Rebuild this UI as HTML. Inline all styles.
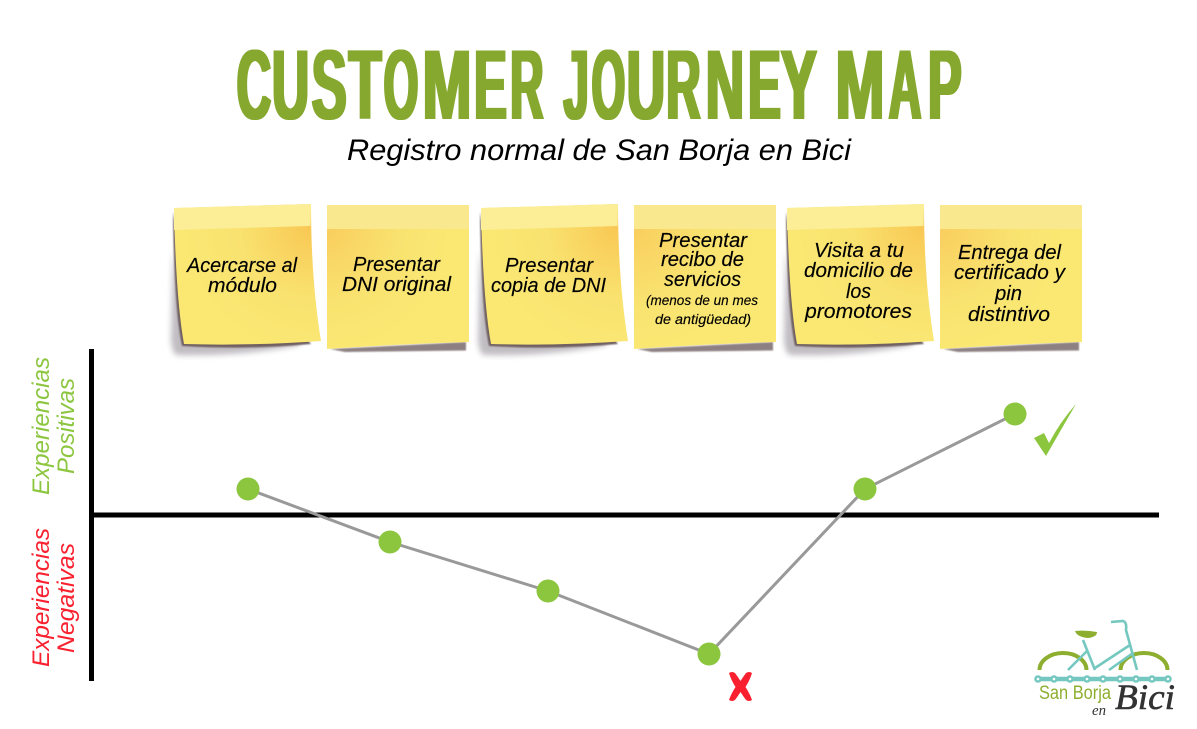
<!DOCTYPE html>
<html><head><meta charset="utf-8"><style>
html,body{margin:0;padding:0;background:#fff;width:1197px;height:729px;overflow:hidden}
svg{display:block}
.t{font-family:"Liberation Sans",sans-serif;font-style:italic;font-size:20.5px;fill:#000;stroke:#000;stroke-width:.15}
.s{font-size:13.5px}
.ti text{font-family:"Liberation Sans",sans-serif;font-weight:bold;font-size:99px;fill:#86A82F}
.v{font-family:"Liberation Sans",sans-serif;font-style:italic;font-size:24px}
</style></head><body>
<svg width="1197" height="729" viewBox="0 0 1197 729" xmlns="http://www.w3.org/2000/svg">
<defs>
<filter id="b" x="-20%" y="-30%" width="140%" height="160%"><feGaussianBlur stdDeviation="3"/></filter>
<filter id="b1" x="-20%" y="-50%" width="140%" height="200%"><feGaussianBlur stdDeviation=".7"/></filter>
<filter id="d" filterUnits="userSpaceOnUse" x="220" y="30" width="760" height="110"><feMorphology operator="dilate" radius="1.7 0"/></filter>
<radialGradient id="g1" gradientUnits="userSpaceOnUse" cx="311" cy="226" r="130">
<stop offset="0" stop-color="#F9C753"/><stop offset=".55" stop-color="#F9E26F"/><stop offset="1" stop-color="#FAE873"/></radialGradient>
<radialGradient id="g2" gradientUnits="userSpaceOnUse" cx="327" cy="229" r="125">
<stop offset="0" stop-color="#F9CE5E"/><stop offset=".6" stop-color="#F9E370"/><stop offset="1" stop-color="#FAE873"/></radialGradient>
<g id="n1">
<path d="M173 250 L171 340 Q172 352 176 355 Q240 357 300 345 L296 335 L185 330Z" fill="#8d8690" opacity=".55" filter="url(#b)"/>
<path d="M173 212 Q174 310 182 346 Q250 350 311 344 L300 330 L190 330Z" fill="#6f6162" filter="url(#b1)"/>
<path d="M174 208 L311 204 Q311 280 321 341 Q250 346 184 344 Q176 300 174 208Z" fill="url(#g1)"/>
<path d="M174 208 L311 204 L310.5 226 L174 230Z" fill="#FCEE97"/>
</g>
<g id="n2">
<path d="M330 349 L466 342 L466 350.500 L345 352Z" fill="#8d8082" filter="url(#b1)"/>
<path d="M327 205 L469 205 L469 342 Q400 344 327 349Z" fill="url(#g2)"/>
<path d="M327 205 H469 V229 H327Z" fill="#FAE88F"/>
</g>
</defs>

<g class="ti" filter="url(#d)">
<text transform="translate(236.8,119) scale(.481,1)">C</text>
<text transform="translate(271.95,119) scale(.519,1)">U</text>
<text transform="translate(311.65,119) scale(.532,1)">S</text>
<text transform="translate(348.57,119) scale(.544,1)">T</text>
<text transform="translate(383.75,119) scale(.448,1)">O</text>
<text transform="translate(422.5,119) scale(.594,1)">M</text>
<text transform="translate(474.1,119) scale(.495,1)">E</text>
<text transform="translate(510.3,119) scale(.465,1)">R</text>
<text transform="translate(563.5,119) scale(.458,1)">J</text>
<text transform="translate(591.8,119) scale(.433,1)">O</text>
<text transform="translate(626.8,119) scale(.537,1)">U</text>
<text transform="translate(666.2,119) scale(.481,1)">R</text>
<text transform="translate(705.8,119) scale(.537,1)">N</text>
<text transform="translate(748.1,119) scale(.495,1)">E</text>
<text transform="translate(780.8,119) scale(.549,1)">Y</text>
<text transform="translate(835.5,119) scale(.594,1)">M</text>
<text transform="translate(888.7,119) scale(.456,1)">A</text>
<text transform="translate(928,119) scale(.509,1)">P</text>
</g>
<text x="347" y="160" font-family="Liberation Sans, sans-serif" font-style="italic" font-size="30" textLength="504" lengthAdjust="spacingAndGlyphs">Registro normal de San Borja en Bici</text>

<use href="#n1"/><use href="#n2"/>
<use href="#n1" x="307"/><use href="#n2" x="307"/>
<use href="#n1" x="613"/><use href="#n2" x="613"/>

<text class="t" x="187" y="272" textLength="110" lengthAdjust="spacingAndGlyphs">Acercarse al</text>
<text class="t" x="208" y="292" textLength="69" lengthAdjust="spacingAndGlyphs">módulo</text>
<text class="t" x="353" y="271" textLength="87" lengthAdjust="spacingAndGlyphs">Presentar</text>
<text class="t" x="342" y="291" textLength="109" lengthAdjust="spacingAndGlyphs">DNI original</text>
<text class="t" x="505" y="272" textLength="88" lengthAdjust="spacingAndGlyphs">Presentar</text>
<text class="t" x="491" y="292" textLength="115" lengthAdjust="spacingAndGlyphs">copia de DNI</text>
<text class="t" x="659" y="247" textLength="88" lengthAdjust="spacingAndGlyphs">Presentar</text>
<text class="t" x="661" y="266" textLength="83" lengthAdjust="spacingAndGlyphs">recibo de</text>
<text class="t" x="664" y="286" textLength="77" lengthAdjust="spacingAndGlyphs">servicios</text>
<text class="t s" x="646" y="305" textLength="112" lengthAdjust="spacingAndGlyphs">(menos de un mes</text>
<text class="t s" x="655" y="324" textLength="96" lengthAdjust="spacingAndGlyphs">de antigüedad)</text>
<text class="t" x="814" y="257" textLength="90" lengthAdjust="spacingAndGlyphs">Visita a tu</text>
<text class="t" x="804" y="277" textLength="109" lengthAdjust="spacingAndGlyphs">domicilio de</text>
<text class="t" x="846" y="298" textLength="25" lengthAdjust="spacingAndGlyphs">los</text>
<text class="t" x="805" y="318" textLength="107" lengthAdjust="spacingAndGlyphs">promotores</text>
<text class="t" x="958" y="259" textLength="103" lengthAdjust="spacingAndGlyphs">Entrega del</text>
<text class="t" x="954" y="279" textLength="111" lengthAdjust="spacingAndGlyphs">certificado y</text>
<text class="t" x="995" y="300" textLength="27" lengthAdjust="spacingAndGlyphs">pin</text>
<text class="t" x="968" y="321" textLength="82" lengthAdjust="spacingAndGlyphs">distintivo</text>

<text class="v" fill="#8CC63F" transform="translate(49,495) rotate(-90)" textLength="138" lengthAdjust="spacingAndGlyphs">Experiencias</text>
<text class="v" fill="#8CC63F" transform="translate(74,474) rotate(-90)" textLength="96" lengthAdjust="spacingAndGlyphs">Positivas</text>
<text class="v" fill="#F9212F" transform="translate(49,667) rotate(-90)" textLength="139" lengthAdjust="spacingAndGlyphs">Experiencias</text>
<text class="v" fill="#F9212F" transform="translate(74,653) rotate(-90)" textLength="110" lengthAdjust="spacingAndGlyphs">Negativas</text>

<rect x="89" y="349" width="5" height="332" fill="#000"/>
<rect x="92" y="512.500" width="1067" height="5" fill="#000"/>

<polyline points="248,489 390,542 548,591 709,654 865,489 1015,414" fill="none" stroke="#999" stroke-width="3"/>
<g fill="#8CC63F">
<circle cx="248" cy="489" r="11.500"/><circle cx="390" cy="542" r="11.500"/><circle cx="548" cy="591" r="11.500"/>
<circle cx="709" cy="654" r="11.500"/><circle cx="865" cy="489" r="11.500"/><circle cx="1015" cy="414" r="11.500"/>
</g>
<path d="M1034 438 L1044 433 L1049 443 Q1060 422 1076 404 Q1062 428 1046 456Z" fill="#8CC63F"/>
<path d="M729 673 Q732 671 735 673 Q738 677 740.500 681 Q743 677 746 673 Q749 671 752 673 Q750 680 745.500 687 Q750 694 752 700 Q749 702 746 700 Q743 696 740.500 692 Q738 696 735 700 Q732 702 729 700 Q731 694 735.500 687 Q731 680 729 673Z" fill="#F9212F"/>

<!-- logo -->
<g fill="none" stroke-linecap="butt">
<path d="M1039.500 670 A23.500 17 0 0 1 1086.500 670" stroke="#8DAE2F" stroke-width="4"/>
<path d="M1120.500 670 A23.500 17 0 0 1 1167.500 670" stroke="#8DAE2F" stroke-width="4"/>
<g stroke="#74C8C0" stroke-width="2.600">
<path d="M1111 622 L1123 621 Q1127 622 1126 630 L1137 670"/>
<path d="M1083 640 L1095 670"/>
<path d="M1095 668 L1130 645"/>
<path d="M1109 670 L1133 653"/>
<path d="M1068 670 L1087 651"/>
</g>
<path d="M1038 679 H1169" stroke="#74C8C0" stroke-width="4.500"/>
</g>
<path d="M1075 631 Q1086 630 1097 632 Q1097 637 1088 638 Q1077 637 1075 631Z" fill="#8DAE2F"/>
<g fill="#74C8C0">
<circle cx="1038" cy="679" r="3.800"/><circle cx="1054" cy="679" r="3.800"/><circle cx="1070" cy="679" r="3.800"/><circle cx="1087" cy="679" r="3.800"/><circle cx="1103" cy="679" r="3.800"/><circle cx="1120" cy="679" r="3.800"/><circle cx="1136" cy="679" r="3.800"/><circle cx="1152" cy="679" r="3.800"/><circle cx="1168" cy="679" r="3.800"/>
</g>
<g fill="#fff">
<circle cx="1038" cy="679" r="1.300"/><circle cx="1054" cy="679" r="1.300"/><circle cx="1070" cy="679" r="1.300"/><circle cx="1087" cy="679" r="1.300"/><circle cx="1103" cy="679" r="1.300"/><circle cx="1120" cy="679" r="1.300"/><circle cx="1136" cy="679" r="1.300"/><circle cx="1152" cy="679" r="1.300"/><circle cx="1168" cy="679" r="1.300"/>
</g>
<text x="1039" y="699" font-family="Liberation Sans, sans-serif" font-size="19" fill="#8DAE2F" textLength="72" lengthAdjust="spacingAndGlyphs">San Borja</text>
<text x="1092" y="715" font-family="Liberation Serif, serif" font-style="italic" font-size="15" fill="#333" textLength="14" lengthAdjust="spacingAndGlyphs">en</text>
<text x="1115" y="709" font-family="Liberation Serif, serif" font-style="italic" font-size="36" fill="#333" stroke="#333" stroke-width=".6" textLength="60" lengthAdjust="spacingAndGlyphs">Bici</text>
</svg>
</body></html>
